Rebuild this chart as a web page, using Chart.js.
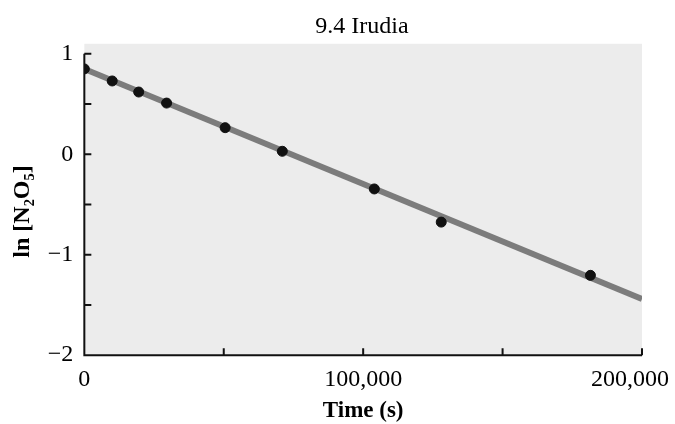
<!DOCTYPE html>
<html>
<head>
<meta charset="utf-8">
<script src="https://cdn.jsdelivr.net/npm/chart.js@4.4.0/dist/chart.umd.min.js"></script>
<style>
  html, body { margin: 0; padding: 0; background: #fff; }
  #wrap { width: 675px; height: 424px; }
</style>
</head>
<body>
<div id="wrap"><canvas id="chart"></canvas></div>
<script>
// measured points, time (s) vs ln[N2O5]
var times = [0, 10000, 19500, 29500, 50500, 71000, 104000, 128000, 181500];
var lnConc = [0.85, 0.73, 0.62, 0.51, 0.265, 0.03, -0.345, -0.675, -1.205];

// best-fit line end points
var fitTimes = [0, 200000];
var fitValues = [0.85, -1.44];

var xTicks = [0, 50000, 100000, 150000, 200000];
var xLabelled = [0, 100000, 200000];
var yTicks = [-2, -1.5, -1, -0.5, 0, 0.5, 1];
var yLabelled = [-2, -1, 0, 1];

var serif = '"Liberation Serif", "DejaVu Serif", serif';

// plot background + axes with inward ticks, like the textbook figure
var axesPlugin = {
  id: 'axesPlugin',
  beforeDraw: function (chart) {
    var ctx = chart.ctx, a = chart.chartArea;
    ctx.save();
    ctx.fillStyle = '#ececec';
    ctx.fillRect(a.left, a.top, a.right - a.left, a.bottom - a.top);
    ctx.restore();
  },
  afterDatasetsDraw: function (chart) {
    var ctx = chart.ctx, x = chart.scales.x, y = chart.scales.y;
    var x0 = x.getPixelForValue(0), x1 = x.getPixelForValue(200000);
    var yb = y.getPixelForValue(-2), yt = y.getPixelForValue(1);
    ctx.save();
    ctx.strokeStyle = '#111';
    ctx.lineWidth = 2;
    ctx.beginPath();
    ctx.moveTo(x0, yt);
    ctx.lineTo(x0, yb);
    ctx.lineTo(x1, yb);
    xTicks.forEach(function (t) {
      var px = x.getPixelForValue(t);
      ctx.moveTo(px, yb);
      ctx.lineTo(px, yb - 7);
    });
    yTicks.forEach(function (t) {
      var py = y.getPixelForValue(t);
      ctx.moveTo(x0, py);
      ctx.lineTo(x0 + 7, py);
    });
    ctx.stroke();
    ctx.restore();
  }
};

new Chart(document.getElementById('chart'), {
  type: 'scatter',
  data: {
    datasets: [{
      label: 'fit',
      data: fitTimes.map(function (t, i) { return { x: t, y: fitValues[i] }; }),
      showLine: true,
      borderColor: '#7c7c7c',
      borderWidth: 6,
      pointRadius: 0,
      order: 2
    }, {
      label: 'ln[N2O5]',
      data: times.map(function (t, i) { return { x: t, y: lnConc[i] }; }),
      backgroundColor: '#111',
      borderColor: '#111',
      pointRadius: 5,
      order: 1
    }]
  },
  options: {
    responsive: true,
    maintainAspectRatio: false,
    animation: false,
    layout: { padding: { top: 1, right: 0, left: 8, bottom: 1 } },
    plugins: {
      legend: { display: false },
      tooltip: { enabled: false },
      title: {
        display: true,
        // leading spaces centre it over the plot rather than the page
        text: '\u2002\u2002\u2002\u20099.4 Irudia',
        color: '#000',
        font: { family: serif, size: 24, weight: 'normal' },
        padding: { top: 11, bottom: 3 }
      }
    },
    scales: {
      x: {
        type: 'linear',
        min: 0,
        max: 200000,
        afterBuildTicks: function (s) { s.ticks = xTicks.map(function (v) { return { value: v }; }); },
        afterFit: function (s) { s.paddingRight = 33; },
        grid: { display: false, drawTicks: false },
        border: { display: false },
        ticks: {
          color: '#000',
          padding: 10,
          maxRotation: 0,
          autoSkip: false,
          font: { family: serif, size: 24 },
          callback: function (v) {
            if (xLabelled.indexOf(v) < 0) return '';
            // last label is nudged left so it stays on the page
            return v === 200000 ? v.toLocaleString('en-US') + '\u2002\u2002' : v.toLocaleString('en-US');
          }
        },
        title: {
          display: true,
          text: 'Time (s)',
          color: '#000',
          font: { family: serif, size: 23, weight: 'bold', lineHeight: 1.0 },
          padding: { top: -4, bottom: 0 }
        }
      },
      y: {
        type: 'linear',
        min: -2,
        max: 1.1,
        afterBuildTicks: function (s) { s.ticks = yTicks.map(function (v) { return { value: v }; }); },
        grid: { display: false, drawTicks: false },
        border: { display: false },
        ticks: {
          color: '#000',
          padding: 11,
          autoSkip: false,
          font: { family: serif, size: 24 },
          callback: function (v) {
            if (yLabelled.indexOf(v) < 0) return '';
            return v < 0 ? '\u2212' + Math.abs(v) : String(v);
          }
        },
        title: {
          display: true,
          text: 'ln [N\u2082O\u2085]\u2002\u2002',
          color: '#000',
          font: { family: serif, size: 24, weight: 'bold' },
          padding: { top: 0, bottom: 0 }
        }
      }
    }
  },
  plugins: [axesPlugin]
});
</script>
</body>
</html>
